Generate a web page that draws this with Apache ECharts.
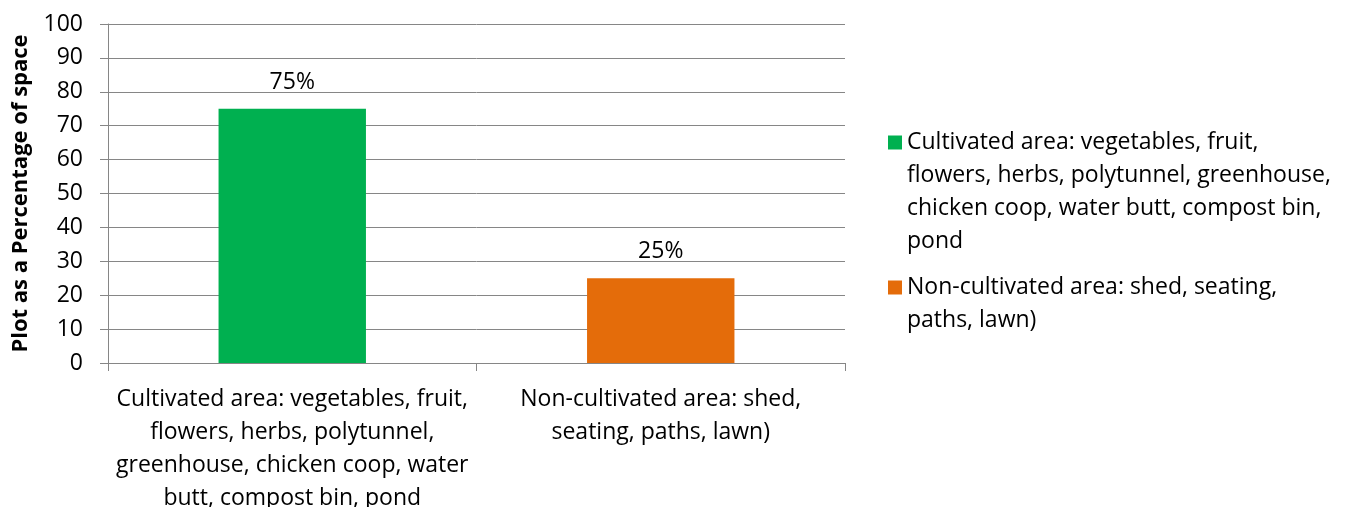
<!DOCTYPE html>
<html>
<head>
<meta charset="utf-8">
<script src="https://cdn.jsdelivr.net/npm/echarts@6/dist/echarts.min.js"></script>
<style>
  html, body { margin: 0; padding: 0; background: #fff; }
  #main { width: 1354px; height: 507px; }
</style>
</head>
<body>
<div id="main"></div>
<script>
// plot split, percent of space
let categories = [
    'Cultivated area: vegetables, fruit, flowers, herbs, polytunnel, greenhouse, chicken coop, water butt, compost bin, pond',
    'Non-cultivated area: shed, seating, paths, lawn)'
];
let xLabels = [
    'Cultivated area: vegetables, fruit,\nflowers, herbs, polytunnel,\ngreenhouse, chicken coop, water\nbutt, compost bin, pond',
    'Non-cultivated area: shed,\nseating, paths, lawn)'
];
let legendLabels = [
    'Cultivated area: vegetables, fruit,\nflowers, herbs, polytunnel, greenhouse,\nchicken coop, water butt, compost bin,\npond',
    'Non-cultivated area: shed, seating,\npaths, lawn)'
];
let values = [75, 25];
let colors = ['#00B050', '#E46C0A'];
let yTicks = { min: 0, max: 100, interval: 10 };

let font = 'Open Sans';
let fs = 23;
let lh = 33;
let gridGray = '#868686';

let myChart = echarts.init(document.getElementById('main'));

let series = categories.map(function (name, i) {
    return {
        name: name,
        type: 'bar',
        stack: 'all',
        barWidth: '40%',
        itemStyle: { color: colors[i] },
        label: {
            show: true,
            position: 'top',
            distance: 15,
            formatter: '{c}%',
            color: '#000',
            fontFamily: font,
            fontSize: fs
        },
        data: values.map(function (v, j) { return j === i ? v : '-'; })
    };
});

// one legend per item; blank lines in front keep the square on the first text line
let legendTops = [27, 238];
let legends = categories.map(function (name, i) {
    let nLines = legendLabels[i].split('\n').length;
    let lead = new Array(nLines).join('\n');
    return {
        show: true,
        left: 888,
        top: legendTops[i],
        padding: 0,
        orient: 'vertical',
        icon: 'rect',
        itemWidth: 14,
        itemHeight: 14,
        itemGap: 0,
        selectedMode: false,
        formatter: function () { return lead + legendLabels[i]; },
        textStyle: {
            color: '#000',
            fontFamily: font,
            fontSize: fs,
            lineHeight: lh
        },
        data: [name]
    };
});

let option = {
    animation: false,
    textStyle: { fontFamily: font },
    grid: { left: 108, top: 24, right: 509, bottom: 144, containLabel: false, outerBoundsMode: 'none' },
    legend: legends,
    xAxis: {
        type: 'category',
        data: categories,
        axisLine: { lineStyle: { color: gridGray, width: 1 } },
        axisTick: { show: true, interval: 0, length: 8, lineStyle: { color: gridGray } },
        axisLabel: {
            color: '#000',
            fontFamily: font,
            fontSize: fs,
            lineHeight: lh,
            margin: 20,
            interval: 0,
            hideOverlap: false,
            formatter: function (v, idx) { return xLabels[idx]; }
        }
    },
    yAxis: {
        type: 'value',
        min: yTicks.min,
        max: yTicks.max,
        interval: yTicks.interval,
        name: 'Plot as a Percentage of space',
        nameLocation: 'middle',
        nameGap: 76,
        nameTextStyle: { color: '#000', fontFamily: font, fontSize: 22, fontWeight: 'bold' },
        axisLine: { show: true, lineStyle: { color: gridGray } },
        axisTick: { show: true, length: 8, lineStyle: { color: gridGray } },
        axisLabel: { color: '#000', fontFamily: font, fontSize: fs, margin: 25 },
        splitLine: { show: true, lineStyle: { color: gridGray, width: 1 } }
    },
    series: series
};
myChart.setOption(option);
</script>
</body>
</html>
